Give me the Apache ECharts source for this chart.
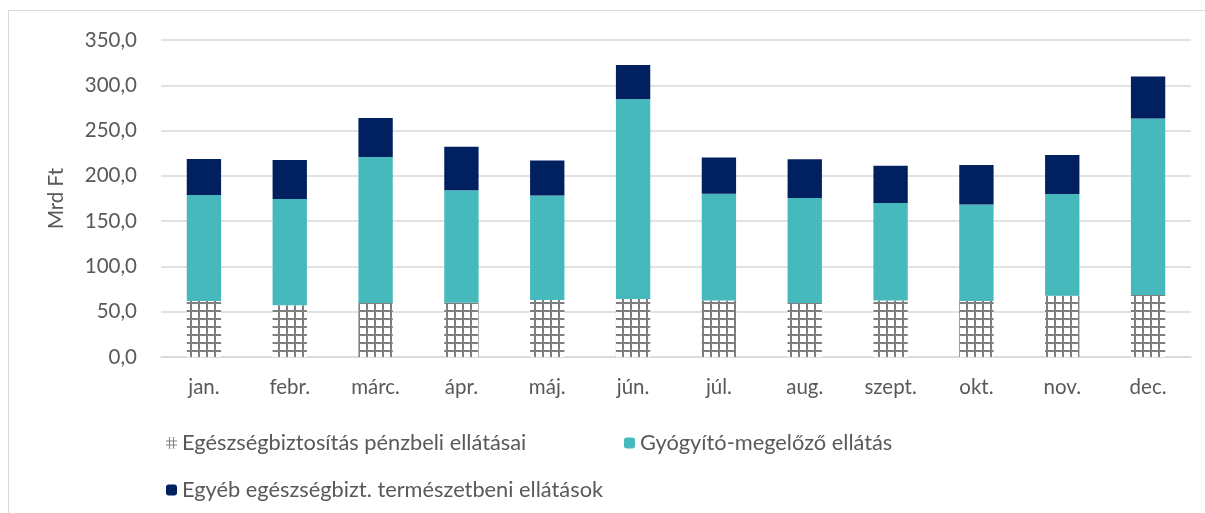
<!DOCTYPE html>
<html>
<head>
<meta charset="utf-8">
<script src="https://cdn.jsdelivr.net/npm/echarts@6/dist/echarts.min.js"></script>
<style>
    html, body { margin: 0; padding: 0; background: #fff; overflow: hidden; }
    .frame {
        position: absolute;
        left: 8px;
        top: 10px;
        width: 1300px;
        height: 600px;
        border: 1.5px solid #d9d9d9;
    }
    #chart { position: absolute; left: 0; top: 0; width: 1205px; height: 513px; }
</style>
</head>
<body>
<div class="frame"></div>
<div id="chart"></div>
<script>
    // adatok
    const months = ['jan.', 'febr.', 'márc.', 'ápr.', 'máj.', 'jún.', 'júl.', 'aug.', 'szept.', 'okt.', 'nov.', 'dec.'];
    const penzbeli = [61.8, 57.0, 59.6, 60.0, 62.9, 64.0, 62.5, 59.6, 62.5, 61.8, 67.7, 68.4];
    const gyogyito = [117.0, 117.4, 161.2, 124.0, 115.5, 220.8, 117.8, 115.9, 107.5, 106.7, 112.2, 195.0];
    const egyeb = [39.7, 43.0, 43.0, 48.1, 38.6, 37.5, 40.1, 42.7, 41.2, 43.4, 43.1, 46.4];
    const seriesNames = ['Egészségbiztosítás pénzbeli ellátásai', 'Gyógyító-megelőző ellátás', 'Egyéb egészségbizt. természetbeni ellátások'];

    const font = 'Lato';
    const textColor = '#595959';

    // rácsos minta (oszlop + kisebb a jelmagyarázathoz)
    function makePattern(size, line) {
        const c = document.createElement('canvas');
        c.width = size;
        c.height = size;
        const ctx = c.getContext('2d');
        ctx.fillStyle = '#fff';
        ctx.fillRect(0, 0, size, size);
        ctx.fillStyle = '#7f7f7f';
        ctx.fillRect(size - line, 0, line, size);
        ctx.fillRect(0, size - line, size, line);
        return c;
    }
    const barPat = makePattern(8, 2);
    const iconPat = makePattern(4, 1);

    const legendText = {fontFamily: font, fontSize: 21.8, color: textColor};

    const chart = echarts.init(document.getElementById('chart'), null, {renderer: 'canvas'});
    chart.setOption({
        animation: false,
        textStyle: {fontFamily: font},
        grid: {left: 161, right: 14, top: 40, bottom: 156},
        legend: [
            {
                data: [{name: seriesNames[0], itemStyle: {color: {image: iconPat, repeat: 'repeat'}}}],
                left: 161, top: 427, itemWidth: 11, itemHeight: 11, itemGap: 10, textStyle: legendText
            },
            {data: [seriesNames[1]], left: 619, top: 427, itemWidth: 11, itemHeight: 11, textStyle: legendText},
            {data: [seriesNames[2]], left: 161, top: 474, itemWidth: 11, itemHeight: 11, textStyle: legendText}
        ],
        xAxis: {
            type: 'category',
            data: months,
            axisTick: {show: false},
            axisLine: {lineStyle: {color: '#d9d9d9', width: 1.5}},
            axisLabel: {color: textColor, fontSize: 20.5, fontFamily: font, margin: 20}
        },
        yAxis: {
            type: 'value',
            min: 0,
            max: 350,
            interval: 50,
            name: 'Mrd Ft',
            nameLocation: 'middle',
            nameGap: 94,
            nameTextStyle: {color: textColor, fontSize: 20.5, fontFamily: font},
            axisLine: {show: false},
            axisTick: {show: false},
            splitLine: {lineStyle: {color: '#d9d9d9', width: 1.5}},
            axisLabel: {
                color: textColor, fontSize: 20.5, fontFamily: font, margin: 24,
                formatter: v => v.toFixed(1).replace('.', ',')
            }
        },
        series: [
            {
                name: seriesNames[0], type: 'bar', stack: 'total', barWidth: '40%',
                data: penzbeli,
                itemStyle: {color: {image: barPat, repeat: 'repeat'}}
            },
            {
                name: seriesNames[1], type: 'bar', stack: 'total',
                data: gyogyito,
                itemStyle: {color: '#46b9bc'}
            },
            {
                name: seriesNames[2], type: 'bar', stack: 'total',
                data: egyeb,
                itemStyle: {color: '#002060'}
            }
        ]
    });
</script>
</body>
</html>
